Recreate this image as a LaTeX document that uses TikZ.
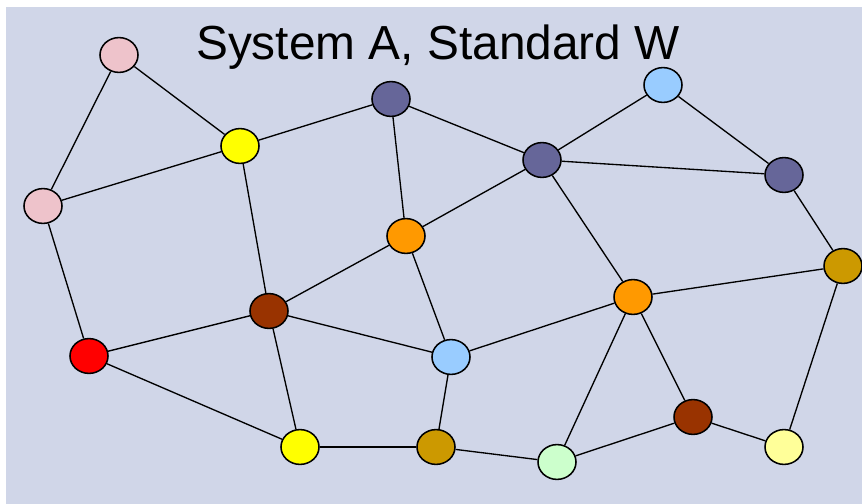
\documentclass[tikz,border=0pt]{standalone}
\usepackage{fontspec}
\setmainfont{Liberation Sans}
\usetikzlibrary{shapes.geometric}
\definecolor{bgcol}{HTML}{D0D6E8}
\definecolor{pinkv}{HTML}{EEC3CB}
\definecolor{yellowv}{HTML}{FFFF00}
\definecolor{purplev}{HTML}{666699}
\definecolor{bluev}{HTML}{99CCFF}
\definecolor{orangev}{HTML}{FF9900}
\definecolor{brownv}{HTML}{993300}
\definecolor{redv}{HTML}{FF0000}
\definecolor{goldv}{HTML}{CC9900}
\definecolor{greenv}{HTML}{CCFFCC}
\definecolor{paleyv}{HTML}{FFFF99}
\tikzset{
  vert/.style={ellipse, draw, line width=1.1pt, minimum width=0.95cm,
    minimum height=0.87cm, inner sep=0pt},
}
\begin{document}
\begin{tikzpicture}[x=0.025cm, y=-0.025cm, line width=0.95pt]
      \useasboundingbox (0,0) rectangle (862,504);
      \fill[bgcol] (6,7) rectangle (862,504);
      \node (title) at (438,47) {\fontsize{34}{40}\selectfont System A, Standard W};
      \draw
        (119,55) node[vert, fill=pinkv] (0){}
        (43,206) node[vert, fill=pinkv] (1){}
        (240,146) node[vert, fill=yellowv] (2){}
        (391,99) node[vert, fill=purplev] (3){}
        (542,160) node[vert, fill=purplev] (4){}
        (663,85) node[vert, fill=bluev] (5){}
        (784,175) node[vert, fill=purplev] (6){}
        (843,266) node[vert, fill=goldv] (7){}
        (406,236) node[vert, fill=orangev] (8){}
        (633,297) node[vert, fill=orangev] (9){}
        (269,311) node[vert, fill=brownv] (10){}
        (89,356) node[vert, fill=redv] (11){}
        (451,357) node[vert, fill=bluev] (12){}
        (300,447) node[vert, fill=yellowv] (13){}
        (436,447) node[vert, fill=goldv] (14){}
        (557,462) node[vert, fill=greenv] (15){}
        (693,417) node[vert, fill=brownv] (16){}
        (784,447) node[vert, fill=paleyv] (17){};
      \begin{scope}[-]
        \draw (0) to (1);
        \draw (0) to (2);
        \draw (1) to (2);
        \draw (1) to (11);
        \draw (2) to (3);
        \draw (2) to (10);
        \draw (3) to (4);
        \draw (3) to (8);
        \draw (4) to (5);
        \draw (4) to (6);
        \draw (4) to (8);
        \draw (4) to (9);
        \draw (5) to (6);
        \draw (6) to (7);
        \draw (7) to (9);
        \draw (7) to (17);
        \draw (8) to (10);
        \draw (8) to (12);
        \draw (9) to (12);
        \draw (9) to (15);
        \draw (9) to (16);
        \draw (10) to (11);
        \draw (10) to (12);
        \draw (10) to (13);
        \draw (11) to (13);
        \draw (12) to (14);
        \draw (13) to (14);
        \draw (14) to (15);
        \draw (15) to (16);
        \draw (16) to (17);
      \end{scope}
    \end{tikzpicture}
\end{document}
